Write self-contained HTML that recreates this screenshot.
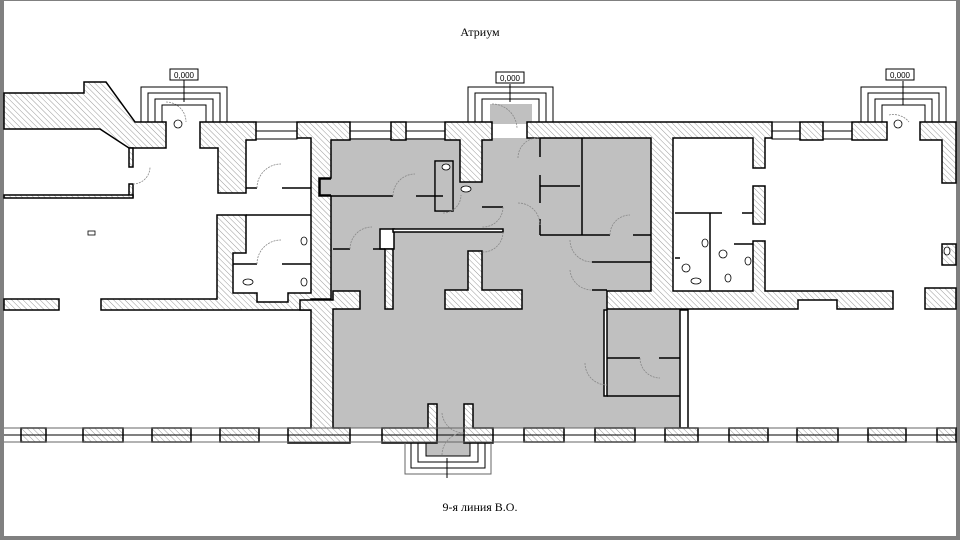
<!DOCTYPE html>
<html><head><meta charset="utf-8"><style>
html,body{margin:0;padding:0;background:#fff}
svg{display:block}
</style></head><body>
<svg width="960" height="540" viewBox="0 0 960 540" xmlns="http://www.w3.org/2000/svg">
<defs>
<pattern id="h" patternUnits="userSpaceOnUse" width="4" height="4" patternTransform="rotate(-45)">
<rect width="4" height="4" fill="#fff"/><line x1="0" y1="0" x2="0" y2="4" stroke="#9a9a9a" stroke-width="1"/>
</pattern>
</defs>
<rect x="0" y="0" width="960" height="540" fill="#fff"/>
<rect x="0" y="0" width="4" height="540" fill="#808080"/>
<rect x="956" y="0" width="4" height="540" fill="#808080"/>
<rect x="0" y="536" width="960" height="4" fill="#808080"/>
<rect x="0" y="0" width="960" height="1" fill="#808080"/>

<text x="480" y="36" font-family="Liberation Serif, serif" font-size="12" text-anchor="middle">Атриум</text>
<text x="480" y="511" font-family="Liberation Serif, serif" font-size="12" text-anchor="middle">9-я линия В.О.</text>

<g fill="#c0c0c0">
<rect x="331" y="138" width="320" height="162"/>
<rect x="333" y="300" width="347" height="128"/>
<rect x="490" y="104" width="42" height="20"/>
<rect x="426" y="428" width="44" height="28"/>
</g>
<g fill="#fff" stroke="#000" stroke-width="1.5">
<rect x="380" y="229" width="14" height="20"/>
<rect x="393" y="229" width="110" height="3"/>
<rect x="435" y="161" width="18" height="50"/>
<rect x="680" y="310" width="8" height="118"/>
<rect x="604" y="310" width="3" height="86"/>
</g>
<rect x="436" y="162" width="16" height="48" fill="#c0c0c0"/>

<g fill="url(#h)" stroke="#000" stroke-width="1.5">
<polygon points="4,93 84,93 84,82 106,82 135,122 166,122 166,148 129,148 100,129 4,129"/>
<rect x="129" y="148" width="4" height="19"/>
<rect x="129" y="184" width="4" height="13"/>
<rect x="4" y="195" width="129" height="3"/>
<polygon points="200,122 256,122 256,140 246,140 246,193 218,193 218,148 200,148"/>
<polygon points="217,215 246,215 246,253 233,253 233,293 257,293 257,302 288,302 288,293 311,293 311,138 297,138 297,122 350,122 350,140 331,140 331,178 319,178 319,196 331,196 331,299 311,299 311,310 101,310 101,299 217,299"/>
<rect x="4" y="299" width="55" height="11"/>
<rect x="391" y="122" width="15" height="18"/>
<polygon points="445,122 492,122 492,140 482,140 482,182 460,182 460,140 445,140"/>
<polygon points="527,122 772,122 772,138 765,138 765,168 753,168 753,138 673,138 673,291 753,291 753,241 765,241 765,291 893,291 893,309 837,309 837,300 798,300 798,309 607,309 607,291 651,291 651,138 527,138"/>
<rect x="753" y="186" width="12" height="38"/>
<rect x="800" y="122" width="23" height="18"/>
<polygon points="852,122 887,122 887,140 852,140"/>
<polygon points="920,122 956,122 956,183 942,183 942,140 920,140"/>
<rect x="942" y="244" width="14" height="21"/>
<rect x="925" y="288" width="31" height="21"/>
<polygon points="300,300 333,300 333,291 360,291 360,309 333,309 333,428 350,428 350,443 288,443 288,428 311,428 311,310 300,310"/>
<rect x="385" y="249" width="8" height="60"/>
<polygon points="445,290 468,290 468,251 482,251 482,290 522,290 522,309 445,309"/>
<rect x="21" y="428" width="25" height="14"/>
<rect x="83" y="428" width="40" height="14"/>
<rect x="152" y="428" width="39" height="14"/>
<rect x="220" y="428" width="39" height="14"/>
<polygon points="382,428 428,428 428,404 437,404 437,443 382,443"/>
<polygon points="464,404 473,404 473,428 493,428 493,443 464,443"/>
<rect x="524" y="428" width="40" height="14"/>
<rect x="595" y="428" width="40" height="14"/>
<rect x="665" y="428" width="33" height="14"/>
<rect x="729" y="428" width="39" height="14"/>
<rect x="797" y="428" width="41" height="14"/>
<rect x="868" y="428" width="38" height="14"/>
<rect x="937" y="428" width="19" height="14"/>
</g>
<rect x="320" y="179" width="12" height="16" fill="#c0c0c0"/>
<polyline points="331,179 320,179 320,195 331,195" fill="none" stroke="#000" stroke-width="1.5"/>

<g fill="none" stroke="#000" stroke-width="1">
<rect x="256" y="122" width="41" height="17"/><line x1="256" y1="131" x2="297" y2="131"/>
<rect x="350" y="122" width="41" height="17"/><line x1="350" y1="131" x2="391" y2="131"/>
<rect x="406" y="122" width="39" height="17"/><line x1="406" y1="131" x2="445" y2="131"/>
<rect x="772" y="122" width="28" height="17"/><line x1="772" y1="131" x2="800" y2="131"/>
<rect x="823" y="122" width="29" height="17"/><line x1="823" y1="131" x2="852" y2="131"/>
<line x1="4" y1="428" x2="956" y2="428" stroke="#666"/>
<line x1="4" y1="442" x2="956" y2="442" stroke="#666"/>
<line x1="4" y1="435" x2="956" y2="435"/>
</g>

<g stroke="#000" stroke-width="1.5" fill="none">
<line x1="246" y1="188" x2="257" y2="188"/><line x1="282" y1="188" x2="311" y2="188"/>
<line x1="246" y1="215" x2="311" y2="215"/>
<line x1="233" y1="264" x2="257" y2="264"/><line x1="282" y1="264" x2="311" y2="264"/>
<line x1="331" y1="196" x2="393" y2="196"/><line x1="416" y1="196" x2="443" y2="196"/>
<line x1="482" y1="207" x2="503" y2="207"/>
<line x1="333" y1="249" x2="350" y2="249"/><line x1="373" y1="249" x2="385" y2="249"/>
<line x1="540" y1="138" x2="540" y2="157"/><line x1="540" y1="175" x2="540" y2="203"/>
<line x1="540" y1="186" x2="580" y2="186"/>
<line x1="540" y1="219" x2="540" y2="235"/><line x1="540" y1="235" x2="582" y2="235"/>
<line x1="582" y1="138" x2="582" y2="235"/>
<line x1="582" y1="235" x2="610" y2="235"/><line x1="633" y1="235" x2="651" y2="235"/>
<line x1="592" y1="262" x2="651" y2="262"/>
<line x1="592" y1="290" x2="607" y2="290"/>
<line x1="607" y1="358" x2="640" y2="358"/><line x1="659" y1="358" x2="680" y2="358"/>
<line x1="607" y1="396" x2="680" y2="396"/>
<line x1="675" y1="213" x2="722" y2="213"/><line x1="742" y1="213" x2="753" y2="213"/>
<line x1="710" y1="213" x2="710" y2="291"/>
<line x1="734" y1="244" x2="753" y2="244"/>
<line x1="675" y1="258" x2="680" y2="258"/>
</g>
<g stroke="#888" stroke-width="0.8" fill="none" stroke-dasharray="2,1">
<path d="M133,184 A17,17 0 0 0 150,167"/>
<path d="M257,188 A24,24 0 0 1 281,164"/>
<path d="M257,264 A24,24 0 0 1 281,240"/>
<path d="M393,196 A22,22 0 0 1 415,174"/>
<path d="M350,249 A22,22 0 0 1 372,227"/>
<path d="M443,213 A18,18 0 0 0 461,195"/>
<path d="M503,207 A20,20 0 0 1 482,227"/>
<path d="M503,232 A20,20 0 0 1 482,252"/>
<path d="M518,158 A20,20 0 0 1 540,138"/>
<path d="M518,203 A22,22 0 0 1 540,225"/>
<path d="M610,235 A20,20 0 0 1 630,215"/>
<path d="M570,240 A22,22 0 0 0 592,262"/>
<path d="M570,270 A22,22 0 0 0 592,290"/>
<path d="M585,363 A22,22 0 0 0 607,385"/>
<path d="M640,358 A20,20 0 0 0 660,378"/>
<path d="M492,104 A25,25 0 0 1 517,128"/>
<path d="M166,102 A20,20 0 0 1 186,122"/>
<path d="M889,115 A20,20 0 0 1 909,122"/>
<path d="M442,413 A22,22 0 0 0 464,433"/>
<path d="M442,455 A22,22 0 0 1 464,433"/>
</g>

<g fill="none" stroke="#000" stroke-width="1">
<polyline points="141,122 141,87 227,87 227,122"/>
<polyline points="148,122 148,93 220,93 220,122"/>
<polyline points="155,122 155,99 213,99 213,122"/>
<polyline points="162,122 162,105 206,105 206,122"/>
<polyline points="468,122 468,87 553,87 553,122"/>
<polyline points="475,122 475,93 546,93 546,122"/>
<polyline points="482,122 482,99 539,99 539,122"/>
<polyline points="861,122 861,87 946,87 946,122"/>
<polyline points="868,122 868,93 939,93 939,122"/>
<polyline points="875,122 875,99 932,99 932,122"/>
<polyline points="882,122 882,105 925,105 925,122"/>
<polyline points="405,443 405,474 491,474 491,443" stroke="#666"/>
<polyline points="411,443 411,468 485,468 485,443"/>
<polyline points="418,443 418,462 478,462 478,443"/>
<polyline points="426,443 426,456 470,456 470,443"/>
<line x1="184" y1="80" x2="184" y2="102"/>
<line x1="510" y1="84" x2="510" y2="102"/>
<line x1="903" y1="81" x2="903" y2="105"/>
<line x1="447" y1="458" x2="447" y2="478"/>
</g>
<g font-family="Liberation Sans, sans-serif" font-size="8" text-anchor="middle">
<rect x="170" y="69" width="28" height="11" fill="#fff" stroke="#000"/><text x="184" y="78">0,000</text>
<rect x="496" y="72" width="28" height="11" fill="#fff" stroke="#000"/><text x="510" y="81">0,000</text>
<rect x="886" y="69" width="28" height="11" fill="#fff" stroke="#000"/><text x="900" y="78">0,000</text>
</g>
<g fill="#fff" stroke="#000" stroke-width="0.8">
<circle cx="178" cy="124" r="4"/><circle cx="898" cy="124" r="4"/>
<circle cx="686" cy="268" r="4"/><circle cx="723" cy="254" r="4"/>
<ellipse cx="248" cy="282" rx="5" ry="3"/><ellipse cx="466" cy="189" rx="5" ry="3"/>
<ellipse cx="696" cy="281" rx="5" ry="3"/><ellipse cx="728" cy="278" rx="3" ry="4"/>
<ellipse cx="304" cy="241" rx="3" ry="4"/><ellipse cx="304" cy="282" rx="3" ry="4"/>
<ellipse cx="446" cy="167" rx="4" ry="3"/>
<ellipse cx="705" cy="243" rx="3" ry="4"/><ellipse cx="748" cy="261" rx="3" ry="4"/>
<ellipse cx="947" cy="251" rx="3" ry="4"/>
<rect x="88" y="231" width="7" height="4"/>
</g>
</svg>
</body></html>
